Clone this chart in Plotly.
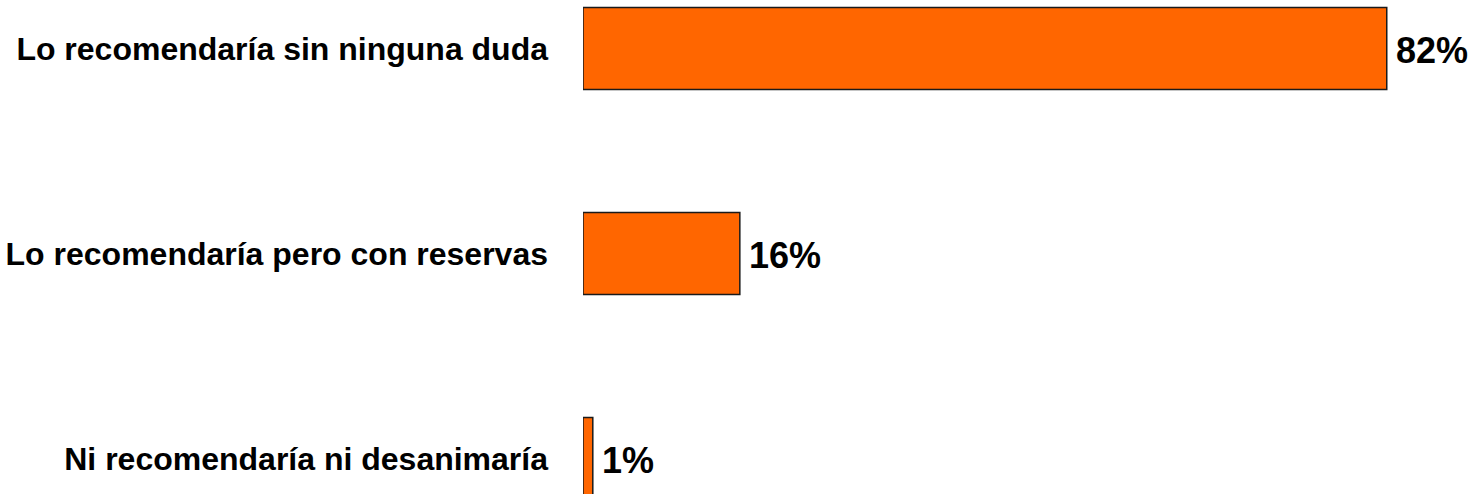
import plotly.graph_objects as go

categories = [
    "Lo recomendaría sin ninguna duda",
    "Lo recomendaría pero con reservas",
    "Ni recomendaría ni desanimaría",
]
values = [82, 16, 1]
value_labels = ["82%", "16%", "1%"]

FONT = "Liberation Sans, Arial, sans-serif"

fig = go.Figure(
    go.Bar(
        x=values,
        y=categories,
        orientation="h",
        width=0.4,
        marker=dict(color="#FF6600", line=dict(color="#1a1a1a", width=1.5)),
        cliponaxis=False,
        hoverinfo="skip",
    )
)

for v, c, t in zip(values, categories, value_labels):
    fig.add_annotation(
        x=v, y=c, text=t, showarrow=False,
        xanchor="left", yanchor="middle", xshift=7, yshift=-2,
        font=dict(family=FONT, size=36, color="#000000", weight="bold"),
    )

fig.update_layout(
    width=1474,
    height=494,
    margin=dict(l=583, r=0, t=0, b=0, autoexpand=False),
    paper_bgcolor="white",
    plot_bgcolor="white",
    showlegend=False,
    font=dict(family=FONT, color="#000000"),
)
fig.update_xaxes(range=[0, 90.9], visible=False, showgrid=False, zeroline=False, automargin=False)
fig.update_yaxes(
    type="category",
    categoryorder="array",
    categoryarray=categories,
    range=[2.173, -0.2366],
    showgrid=False,
    zeroline=False,
    showline=False,
    ticks="",
    automargin=False,
    ticklabelstandoff=34,
    tickfont=dict(family=FONT, size=32, color="#000000", weight="bold"),
)

fig.write_html(
    "out.html",
    config={"displayModeBar": False},
    post_script="document.body.style.margin='0';document.body.style.overflow='hidden';",
)
